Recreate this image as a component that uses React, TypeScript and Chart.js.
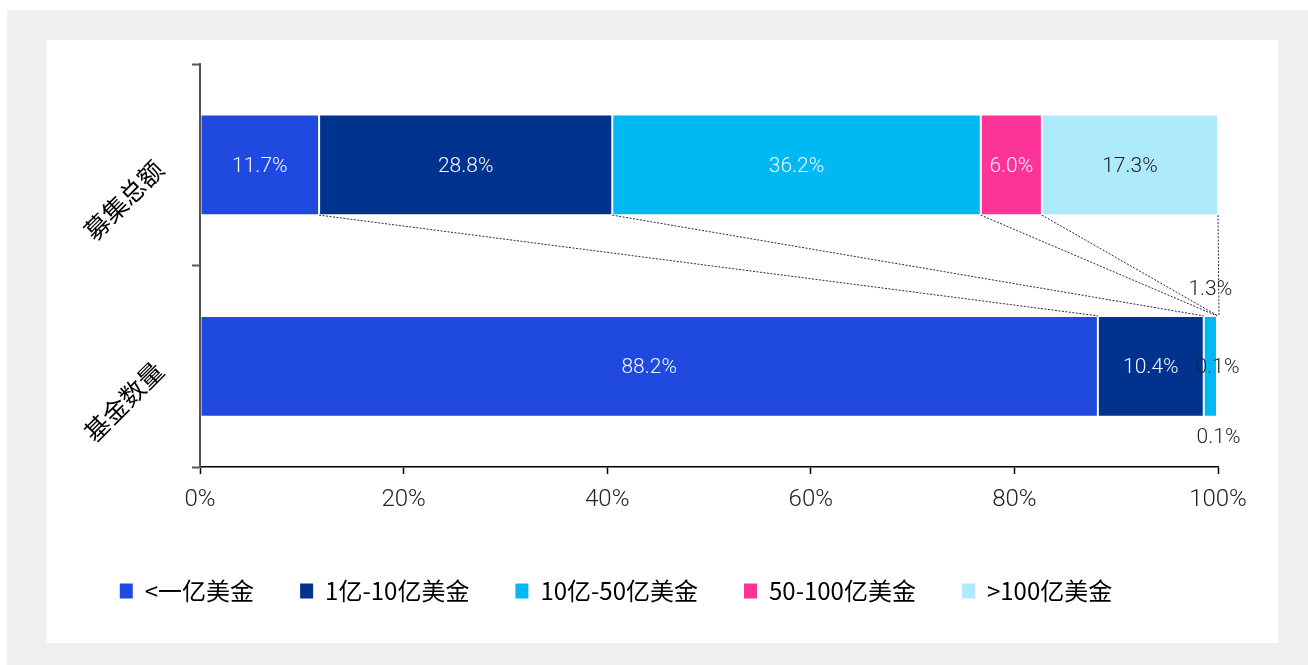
import React, { useEffect, useRef } from 'react';
import { Chart, registerables } from 'chart.js';

Chart.register(...registerables);

// ---------------- data ----------------
const categories = ['募集总额', '基金数量'];
const seriesNames = ['<一亿美金', '1亿-10亿美金', '10亿-50亿美金', '50-100亿美金', '>100亿美金'];
const seriesColors = ['#2049e0', '#00338e', '#00b9f4', '#fe339a', '#adeafc'];
const seriesUnder1 = [11.7, 88.2];
const series1to10 = [28.8, 10.4];
const series10to50 = [36.2, 1.3];
const series50to100 = [6.0, 0.1];
const seriesOver100 = [17.3, 0.1];
const xTickValues = [0, 20, 40, 60, 80, 100];
// label placement for the second (bottom) category, per series
const bottomLabelPlacement = ['center', 'center', 'above', 'center', 'below'];
const insideLabelColors = ['#f4f6ff', '#f4f6ff', '#f4f6ff', '#f4f6ff', '#222222'];

const seriesValues = [seriesUnder1, series1to10, series10to50, series50to100, seriesOver100];

const LABEL_FONT = '300 21px Roboto, "Liberation Sans", sans-serif';

const connectorPlugin = {
  id: 'connectors',
  afterDatasetsDraw(chart: any) {
    const ctx = chart.ctx;
    ctx.save();
    ctx.strokeStyle = '#1d2b4f';
    ctx.lineWidth = 1;
    ctx.setLineDash([2, 1.5]);
    for (let i = 0; i < chart.data.datasets.length; i++) {
      const meta = chart.getDatasetMeta(i);
      const top = meta.data[0] as any;
      const bot = meta.data[1] as any;
      if (!top || !bot) continue;
      const y1 = top.y + top.height / 2;
      const y2 = bot.y - bot.height / 2;
      ctx.beginPath();
      ctx.moveTo(top.x, y1);
      ctx.lineTo(bot.x, y2);
      ctx.stroke();
    }
    ctx.restore();
  },
};

const labelPlugin = {
  id: 'barLabels',
  afterDatasetsDraw(chart: any) {
    const ctx = chart.ctx;
    ctx.save();
    ctx.font = LABEL_FONT;
    ctx.textAlign = 'center';
    ctx.textBaseline = 'middle';
    chart.data.datasets.forEach((ds: any, i: number) => {
      const meta = chart.getDatasetMeta(i);
      meta.data.forEach((el: any, j: number) => {
        const v = ds.data[j];
        const txt = v.toFixed(1) + '%';
        const cx = (el.x + el.base) / 2;
        const w = Math.abs(el.x - el.base);
        const placement = j === 1 ? bottomLabelPlacement[i] : 'center';
        const tw = ctx.measureText(txt).width;
        let y = el.y + 1.5;
        let color = insideLabelColors[i];
        if (placement === 'above') {
          y = el.y - el.height / 2 - 26;
          color = '#222222';
        } else if (placement === 'below') {
          y = el.y + el.height / 2 + 21;
          color = '#222222';
        } else if (w < tw) {
          color = '#222222';
        }
        ctx.fillStyle = color;
        ctx.fillText(txt, cx, y);
      });
    });
    ctx.restore();
  },
};

export default function App() {
  const ref = useRef<HTMLCanvasElement>(null);

  useEffect(() => {
    if (!ref.current) return;
    const chart = new Chart(ref.current, {
      type: 'bar',
      data: {
        labels: categories,
        datasets: seriesNames.map((name, i) => ({
          label: name,
          data: seriesValues[i],
          backgroundColor: seriesColors[i],
          borderColor: 'rgba(255,255,255,0.12)',
          borderWidth: 1,
          borderSkipped: false,
          barPercentage: 0.5,
          categoryPercentage: 1,
        })),
      },
      options: {
        indexAxis: 'y',
        responsive: false,
        animation: false,
        events: [],
        layout: { padding: { left: 14, right: 90, top: 64, bottom: 52 } },
        scales: {
          x: {
            stacked: true,
            min: 0,
            max: 100,
            afterBuildTicks: (scale: any) => {
              scale.ticks = xTickValues.map((v) => ({ value: v }));
            },
            afterFit: (scale: any) => {
              scale.height = 66;
            },
            ticks: {
              callback: (v: any) => v + '%',
              color: '#222222',
              font: { family: 'Roboto, "Liberation Sans", sans-serif', size: 24, weight: 300 as any },
              padding: 12,
              maxRotation: 0,
            },
            grid: {
              drawOnChartArea: false,
              tickLength: 7,
              tickColor: '#000000',
              tickWidth: 1.5,
            },
            border: { color: '#000000', width: 1.5 },
          },
          y: {
            stacked: true,
            afterFit: (scale: any) => {
              scale.width = 186;
            },
            ticks: {
              color: '#000000',
              font: { family: '"Noto Sans CJK SC", sans-serif', size: 25 },
              minRotation: 45,
              maxRotation: 45,
              padding: 33,
            },
            grid: {
              drawOnChartArea: false,
              offset: true,
              tickLength: 8,
              tickColor: '#555555',
              tickWidth: 2,
            },
            border: { color: '#555555', width: 2 },
          },
        },
        plugins: {
          tooltip: { enabled: false },
          legend: {
            position: 'bottom',
            labels: {
              boxWidth: 13,
              boxHeight: 15,
              padding: 46,
              color: '#000000',
              font: { family: '"Noto Sans CJK SC", sans-serif', size: 24 },
              generateLabels: (c: any) =>
                (Chart.defaults.plugins.legend.labels.generateLabels as any)(c).map((l: any) => ({
                  ...l,
                  lineWidth: 0,
                  strokeStyle: l.fillStyle,
                })),
            },
          },
        },
      },
      plugins: [connectorPlugin, labelPlugin],
    });
    return () => chart.destroy();
  }, []);

  return (
    <div style={{ position: 'absolute', left: 0, top: 0, width: 1308, height: 665 }}>
      <div style={{ position: 'absolute', left: 7, top: 10, width: 1301, height: 655, background: '#efefef' }} />
      <div style={{ position: 'absolute', left: 47, top: 40, width: 1231, height: 603, background: '#ffffff' }} />
      <canvas
        ref={ref}
        width={1308}
        height={665}
        style={{ position: 'absolute', left: 0, top: 0, width: 1308, height: 665 }}
      />
    </div>
  );
}
